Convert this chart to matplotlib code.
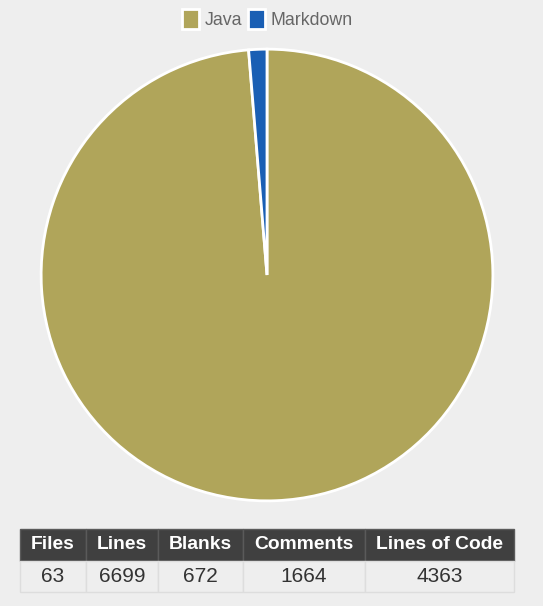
import matplotlib.pyplot as plt

plt.rcParams['font.family'] = ['Liberation Sans', 'DejaVu Sans']

# languages share (by lines)
languages = ['Java', 'Markdown']
shares = [98.7, 1.3]
colors = ['#b0a55a', '#1a5fb4']

# summary table
headers = ['Files', 'Lines', 'Blanks', 'Comments', 'Lines of Code']
values = ['63', '6699', '672', '1664', '4363']
col_px = [66, 72, 85, 122, 149]

W, H = 543, 606
fig = plt.figure(figsize=(W / 100, H / 100), dpi=100)
fig.patch.set_facecolor('#eeeeee')

# pie
cx, cy, r = 267, 275, 227
ax = fig.add_axes([(cx - r) / W, (H - cy - r) / H, 2 * r / W, 2 * r / H])
wedges, _ = ax.pie(shares, colors=colors, startangle=90, counterclock=False,
                   wedgeprops=dict(edgecolor='white', linewidth=2))
ax.set_xlim(-1.005, 1.005)
ax.set_ylim(-1.005, 1.005)
ax.set_aspect('equal')
ax.axis('off')

leg = fig.legend(wedges, languages, loc='upper center', bbox_to_anchor=(0.492, 1.012),
                 ncol=2, frameon=False, fontsize=12.8, handlelength=1.0,
                 handleheight=1.4, handletextpad=0.3, columnspacing=0.3,
                 labelcolor='#666666')

# table
tx, ty, tw, th = 20, 529, sum(col_px), 63
tax = fig.add_axes([tx / W, (H - ty - th) / H, tw / W, th / H])
tax.axis('off')
widths = [c / tw for c in col_px]
tbl = tax.table(cellText=[values], colLabels=headers, colWidths=widths,
                cellLoc='center', bbox=[0, 0, 1, 1])
tbl.auto_set_font_size(False)
for (row, col), cell in tbl.get_celld().items():
    if row == 0:
        cell.set_facecolor('#404040')
        cell.set_edgecolor('#5a5a5a')
        cell.get_text().set_color('white')
        cell.get_text().set_fontweight('bold')
        cell.get_text().set_fontsize(13.9)
    else:
        cell.set_facecolor('#eeeeee')
        cell.set_edgecolor('#dddddd')
        cell.get_text().set_color('#333333')
        cell.get_text().set_fontsize(15)

fig.savefig('out.png', dpi=100, facecolor=fig.get_facecolor())
